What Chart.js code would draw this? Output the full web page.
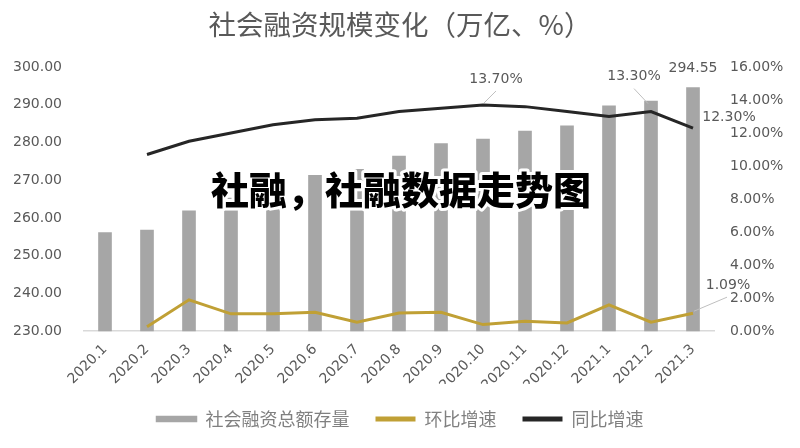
<!DOCTYPE html>
<html>
<head>
<meta charset="utf-8">
<script src="https://cdn.jsdelivr.net/npm/chart.js@4/dist/chart.umd.min.js"></script>
<style>
  html, body { margin: 0; padding: 0; background: #fff; }
  canvas { display: block; }
</style>
</head>
<body>
<canvas id="mixChart" width="800" height="448"></canvas>
<script>
// 月份
var months = ['2020.1', '2020.2', '2020.3', '2020.4', '2020.5', '2020.6', '2020.7', '2020.8',
              '2020.9', '2020.10', '2020.11', '2020.12', '2021.1', '2021.2', '2021.3'];
// 社会融资总额存量（万亿）
var stock = [256.1, 256.8, 261.9, 265.3, 268.4, 271.3, 272.9, 276.4, 279.7, 280.9, 283.0, 284.4, 289.7, 291.0, 294.55];
// 环比增速（%）
var momGrowth = [null, 0.27, 1.9, 1.05, 1.05, 1.15, 0.55, 1.1, 1.15, 0.4, 0.6, 0.5, 1.6, 0.55, 1.09];
// 同比增速（%）
var yoyGrowth = [null, 10.7, 11.5, 12.0, 12.5, 12.8, 12.9, 13.3, 13.5, 13.7, 13.6, 13.3, 13.0, 13.3, 12.3];

var leftTicks = [230, 240, 250, 260, 270, 280, 290, 300];
var rightTicks = [0, 2, 4, 6, 8, 10, 12, 14, 16];

var grey = '#595959';
var tickFont = { family: 'DejaVu Sans', size: 14 };

// 数据标签 + 水印
var labelPlugin = {
    id: 'labels',
    afterDatasetsDraw: function(chart) {
        var ctx = chart.ctx;
        var bars = chart.getDatasetMeta(0).data;
        var mom = chart.getDatasetMeta(1).data;
        var yoy = chart.getDatasetMeta(2).data;
        ctx.save();
        ctx.font = '14px "DejaVu Sans"';
        ctx.fillStyle = grey;
        ctx.textAlign = 'center';
        ctx.textBaseline = 'middle';
        ctx.strokeStyle = '#bfbfbf';
        ctx.lineWidth = 1;

        function leader(p, dx, dy) {
            ctx.beginPath();
            ctx.moveTo(p.x + 1, p.y - 2);
            ctx.lineTo(p.x + dx, p.y + dy);
            ctx.stroke();
        }

        var last = stock.length - 1;
        var b = bars[last];
        ctx.fillText(stock[last].toFixed(2), b.x, b.y - 19);

        var p = yoy[9];
        leader(p, 13, -14);
        ctx.fillText(yoyGrowth[9].toFixed(2) + '%', p.x + 13, p.y - 26);

        p = yoy[13];
        ctx.beginPath();
        ctx.moveTo(p.x - 3, p.y - 8);
        ctx.lineTo(p.x - 17, p.y - 23);
        ctx.stroke();
        ctx.fillText(yoyGrowth[13].toFixed(2) + '%', p.x - 17, p.y - 35);

        p = yoy[last];
        ctx.fillText(yoyGrowth[last].toFixed(2) + '%', p.x + 36, p.y - 11);

        p = mom[last];
        leader(p, 34, -16);
        ctx.fillText(momGrowth[last].toFixed(2) + '%', p.x + 35, p.y - 28);

        // 水印
        ctx.font = '900 38px "Noto Sans CJK SC"';
        ctx.lineJoin = 'round';
        ctx.lineWidth = 6;
        ctx.strokeStyle = '#ffffff';
        ctx.strokeText('社融，社融数据走势图', 401, 190);
        ctx.fillStyle = '#000000';
        ctx.fillText('社融，社融数据走势图', 401, 190);
        ctx.restore();
    }
};

new Chart(document.getElementById('mixChart').getContext('2d'), {
    type: 'bar',
    data: {
        labels: months,
        datasets: [{
            type: 'bar',
            label: '社会融资总额存量',
            data: stock,
            backgroundColor: '#a6a6a6',
            barThickness: 13,
            yAxisID: 'y',
            order: 3
        }, {
            type: 'line',
            label: '环比增速',
            data: momGrowth,
            borderColor: '#c0a035',
            backgroundColor: '#c0a035',
            borderWidth: 3,
            pointRadius: 0,
            tension: 0,
            yAxisID: 'y1',
            order: 1
        }, {
            type: 'line',
            label: '同比增速',
            data: yoyGrowth,
            borderColor: '#262626',
            backgroundColor: '#262626',
            borderWidth: 3,
            pointRadius: 0,
            tension: 0,
            yAxisID: 'y1',
            order: 0
        }]
    },
    options: {
        responsive: false,
        animation: false,
        devicePixelRatio: 1,
        layout: { padding: { left: 0, right: 0, top: 0, bottom: 10 } },
        plugins: {
            title: {
                display: true,
                text: '社会融资规模变化（万亿、%）',
                color: grey,
                font: { family: 'Noto Sans CJK SC', size: 27.5, weight: 'normal' },
                padding: { top: 8, bottom: 26 }
            },
            legend: {
                position: 'bottom',
                labels: {
                    color: '#808080',
                    font: { family: 'Noto Sans CJK SC', size: 18 },
                    boxWidth: 40,
                    boxHeight: 5,
                    padding: 26,
                    generateLabels: function(chart) {
                        return chart.data.datasets.map(function(ds, i) {
                            return {
                                text: ds.label,
                                fillStyle: ds.backgroundColor,
                                strokeStyle: ds.backgroundColor,
                                lineWidth: i === 0 ? 1.5 : 0,
                                fontColor: '#808080',
                                datasetIndex: i
                            };
                        });
                    }
                }
            },
            tooltip: { enabled: false }
        },
        scales: {
            x: {
                grid: { display: false },
                border: { display: true, color: '#d9d9d9', width: 1.5 },
                afterFit: function(axis) { axis.height = axis.height - 12; },
                ticks: {
                    color: grey,
                    font: { family: 'DejaVu Sans', size: 14 },
                    autoSkip: false,
                    minRotation: 45,
                    maxRotation: 45,
                    padding: 2
                }
            },
            y: {
                position: 'left',
                min: 230,
                max: 300,
                grid: { display: false },
                border: { display: false },
                afterBuildTicks: function(axis) {
                    axis.ticks = leftTicks.map(function(v) { return { value: v }; });
                },
                afterFit: function(axis) { axis.width = 84; },
                ticks: {
                    color: grey,
                    font: tickFont,
                    padding: 14,
                    callback: function(v) { return Number(v).toFixed(2); }
                }
            },
            y1: {
                position: 'right',
                min: 0,
                max: 16,
                grid: { display: false },
                border: { display: false },
                afterBuildTicks: function(axis) {
                    axis.ticks = rightTicks.map(function(v) { return { value: v }; });
                },
                afterFit: function(axis) { axis.width = 86; },
                ticks: {
                    color: grey,
                    font: tickFont,
                    padding: 8,
                    callback: function(v) { return Number(v).toFixed(2) + '%'; }
                }
            }
        }
    },
    plugins: [labelPlugin]
});
</script>
</body>
</html>
